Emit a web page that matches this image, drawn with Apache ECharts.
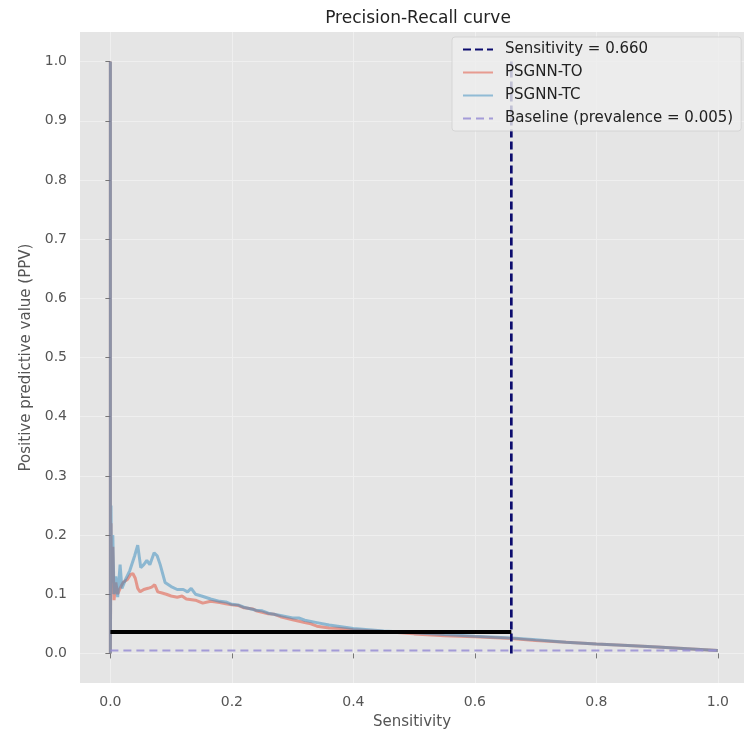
<!DOCTYPE html>
<html>
<head>
<meta charset="utf-8">
<script src="https://cdn.jsdelivr.net/npm/echarts@6/dist/echarts.min.js"></script>
<style>
  html, body { margin: 0; padding: 0; background: #fff; }
  #chart { width: 744px; height: 737px; }
</style>
</head>
<body>
<div id="chart"></div>
<script>
// values
var xTicks = [0, 0.2, 0.4, 0.6, 0.8, 1.0];
var yTicks = [0, 0.1, 0.2, 0.3, 0.4, 0.5, 0.6, 0.7, 0.8, 0.9, 1.0];

var sensitivity = 0.66;
var prevalence = 0.005;
var operatingPpv = 0.036;

var sensLine = [[sensitivity, 0], [sensitivity, 1.0]];
var baseLine = [[0, prevalence], [1.0, prevalence]];
var blackLine = [[0, operatingPpv], [sensitivity, operatingPpv]];

// PSGNN-TO  [sensitivity, ppv]
var psgnnTO = [
    [0, 1.0], [0, 0], [0.001, 0.22], [0.002, 0.1], [0.004, 0.18], [0.006, 0.09],
    [0.009, 0.12], [0.012, 0.1], [0.016, 0.11], [0.021, 0.12], [0.028, 0.125],
    [0.033, 0.133], [0.037, 0.135], [0.041, 0.127], [0.045, 0.11], [0.049, 0.104],
    [0.055, 0.108], [0.062, 0.11], [0.068, 0.112], [0.073, 0.116], [0.078, 0.104],
    [0.085, 0.102], [0.092, 0.1], [0.1, 0.097], [0.11, 0.095], [0.118, 0.097],
    [0.125, 0.092], [0.14, 0.09], [0.152, 0.085], [0.165, 0.088], [0.18, 0.086],
    [0.19, 0.084], [0.2, 0.082], [0.21, 0.081], [0.22, 0.077], [0.235, 0.075],
    [0.24, 0.072], [0.26, 0.067], [0.27, 0.066], [0.28, 0.062], [0.3, 0.057],
    [0.32, 0.052], [0.33, 0.05], [0.34, 0.046], [0.36, 0.043], [0.38, 0.042],
    [0.4, 0.04], [0.45, 0.037], [0.5, 0.033], [0.55, 0.03], [0.6, 0.028],
    [0.66, 0.025], [0.7, 0.022], [0.75, 0.019], [0.8, 0.016], [0.86, 0.013],
    [0.9, 0.011], [0.95, 0.008], [1.0, 0.005]
];

// PSGNN-TC
var psgnnTC = [
    [0, 1.0], [0, 0], [0.001, 0.25], [0.002, 0.12], [0.004, 0.2], [0.006, 0.1],
    [0.009, 0.13], [0.012, 0.095], [0.016, 0.15], [0.019, 0.11], [0.025, 0.125],
    [0.032, 0.14], [0.04, 0.165], [0.045, 0.183], [0.05, 0.145], [0.055, 0.15],
    [0.06, 0.157], [0.065, 0.15], [0.072, 0.17], [0.077, 0.165], [0.082, 0.15],
    [0.09, 0.12], [0.1, 0.113], [0.11, 0.108], [0.12, 0.108], [0.127, 0.104],
    [0.133, 0.11], [0.14, 0.1], [0.15, 0.097], [0.165, 0.092], [0.18, 0.088],
    [0.19, 0.087], [0.2, 0.083], [0.21, 0.082], [0.22, 0.078], [0.24, 0.073],
    [0.25, 0.072], [0.26, 0.068], [0.28, 0.064], [0.3, 0.06], [0.31, 0.06],
    [0.32, 0.056], [0.34, 0.052], [0.36, 0.048], [0.38, 0.045], [0.4, 0.042],
    [0.45, 0.038], [0.5, 0.035], [0.55, 0.032], [0.6, 0.029], [0.66, 0.026],
    [0.7, 0.023], [0.75, 0.019], [0.8, 0.016], [0.86, 0.013], [0.9, 0.011],
    [0.95, 0.008], [1.0, 0.005]
];

var labelColor = '#555';
var fontFamily = 'DejaVu Sans';

var option = {
    animation: false,
    title: {
        text: 'Precision-Recall curve',
        left: 413,
        top: 5,
        textAlign: 'center',
        textStyle: {
            color: '#222',
            fontSize: 17,
            fontWeight: 'normal',
            fontFamily: fontFamily
        }
    },
    legend: {
        orient: 'vertical',
        left: 452,
        top: 37,
        padding: [5, 8, 5, 10],
        itemGap: 8,
        itemWidth: 30,
        itemHeight: 14,
        backgroundColor: 'rgba(238,238,238,0.8)',
        borderColor: 'rgba(205,205,205,0.7)',
        borderWidth: 1,
        borderRadius: 3,
        itemStyle: { opacity: 0 },
        textStyle: {
            color: '#222',
            fontSize: 15,
            fontFamily: fontFamily,
            padding: [0, 0, 0, 7]
        },
        data: ['Sensitivity = 0.660', 'PSGNN-TO', 'PSGNN-TC', 'Baseline (prevalence = 0.005)']
    },
    grid: {
        left: 80,
        right: 0,
        top: 32,
        bottom: 54,
        show: true,
        backgroundColor: '#E5E5E5',
        borderWidth: 0
    },
    xAxis: {
        type: 'value',
        min: -0.05,
        max: 1.043,
        name: 'Sensitivity',
        nameLocation: 'middle',
        nameGap: 32,
        nameTextStyle: { color: labelColor, fontSize: 15, fontFamily: fontFamily },
        axisLine: { show: false },
        axisTick: {
            show: true,
            length: 5,
            customValues: xTicks,
            lineStyle: { color: '#777' }
        },
        axisLabel: {
            customValues: xTicks,
            margin: 12,
            color: labelColor,
            fontSize: 14,
            fontFamily: fontFamily,
            formatter: function (v) { return v.toFixed(1); }
        },
        splitLine: { show: true, lineStyle: { color: '#efefef', width: 1 } }
    },
    yAxis: {
        type: 'value',
        min: -0.05,
        max: 1.05,
        name: 'Positive predictive value (PPV)',
        nameLocation: 'middle',
        nameGap: 45,
        nameTextStyle: { color: labelColor, fontSize: 15, fontFamily: fontFamily },
        axisLine: { show: false },
        axisTick: {
            show: true,
            length: 5,
            customValues: yTicks,
            lineStyle: { color: '#777' }
        },
        axisLabel: {
            customValues: yTicks,
            margin: 13,
            color: labelColor,
            fontSize: 14,
            fontFamily: fontFamily,
            formatter: function (v) { return v.toFixed(1); }
        },
        splitLine: { show: true, lineStyle: { color: '#efefef', width: 1 } }
    },
    series: [
        {
            name: 'Sensitivity = 0.660',
            type: 'line',
            data: sensLine,
            symbol: 'none',
            z: 3,
            itemStyle: { color: '#0c0c6e' },
            lineStyle: { color: '#0c0c6e', width: 2.7, type: [8, 4] }
        },
        {
            name: 'PSGNN-TO',
            type: 'line',
            data: psgnnTO,
            symbol: 'none',
            z: 2,
            itemStyle: { color: 'rgba(226,74,51,0.5)' },
            lineStyle: { color: 'rgba(226,74,51,0.5)', width: 3 }
        },
        {
            name: 'PSGNN-TC',
            type: 'line',
            data: psgnnTC,
            symbol: 'none',
            z: 2,
            itemStyle: { color: 'rgba(52,138,189,0.5)' },
            lineStyle: { color: 'rgba(52,138,189,0.5)', width: 3 }
        },
        {
            name: 'Baseline (prevalence = 0.005)',
            type: 'line',
            data: baseLine,
            symbol: 'none',
            z: 2,
            itemStyle: { color: 'rgba(152,142,213,0.85)' },
            lineStyle: { color: 'rgba(152,142,213,0.85)', width: 2, type: [8, 5] }
        },
        {
            name: 'operating point',
            type: 'line',
            data: blackLine,
            symbol: 'none',
            z: 4,
            itemStyle: { color: '#000' },
            lineStyle: { color: '#000', width: 4 }
        }
    ]
};

var chart = echarts.init(document.getElementById('chart'));
chart.setOption(option);
</script>
</body>
</html>
